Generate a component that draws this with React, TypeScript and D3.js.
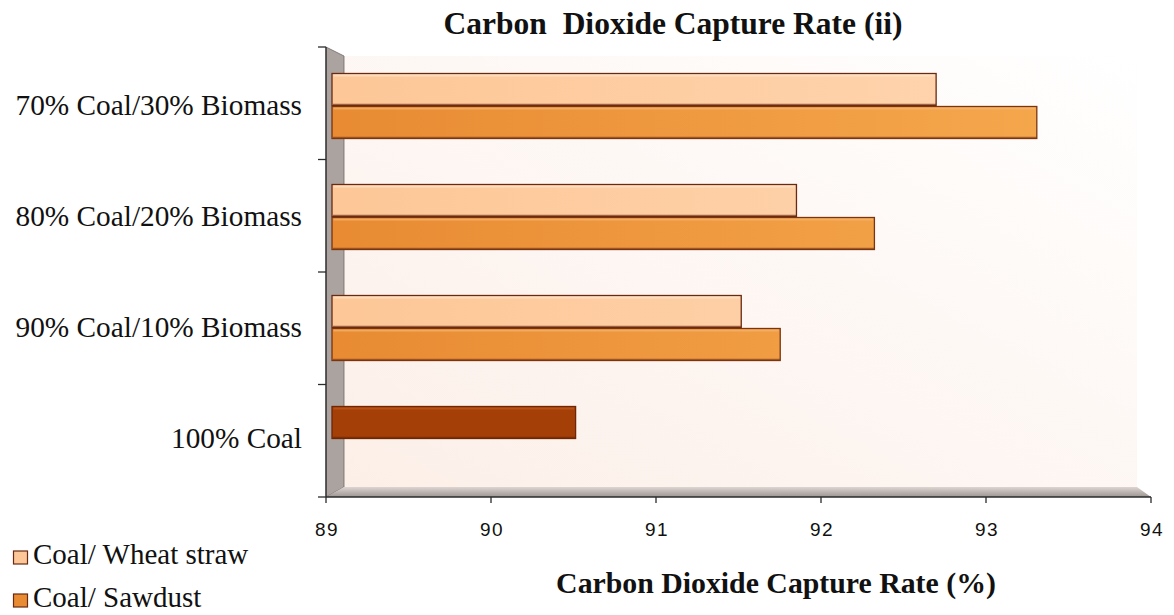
import React from "react";
import * as d3 from "d3";

// Blend ratios, top to bottom
const categories = [
  "70% Coal/30% Biomass",
  "80% Coal/20% Biomass",
  "90% Coal/10% Biomass",
  "100% Coal",
];
// CO2 capture rate (%) per blend
const wheatStraw = [92.72, 91.86, 91.52, 90.5];
const sawdust: (number | null)[] = [93.34, 92.34, 91.76, null];
const xTicks = [89, 90, 91, 92, 93, 94];
const seriesNames = ["Coal/ Wheat straw", "Coal/ Sawdust"];

const W = 1174;
const H = 615;

// Front edge of the chart box and the recessed back wall
const front = { left: 326, right: 1151, top: 47, bottom: 497 };
const back = { left: 344, right: 1137, top: 56, bottom: 487 };

export default function App() {
  const xAxis = d3.scaleLinear().domain([89, 94]).range([front.left, front.right]);
  const xBar = d3.scaleLinear().domain([89, 94]).range([332, 1144]);
  const yTicks = d3.scaleBand<string>().domain(categories).range([front.top, front.bottom]);
  const yBar = d3.scaleBand<string>().domain(categories).range([50, 494]);
  const barH = 32;

  const serif = "'Liberation Serif', 'Times New Roman', serif";
  const sans = "'Liberation Sans', Arial, sans-serif";

  const boundaries = [...categories.map((c) => yTicks(c)!), front.bottom];

  const bar = (
    key: string,
    v: number,
    y0: number,
    fill: string,
    stroke: string,
    hi: string
  ) => {
    const x0 = xBar(89);
    const x1 = xBar(v);
    return (
      <g key={key}>
        <rect x={x0} y={y0} width={x1 - x0} height={barH} fill={fill} stroke={stroke} strokeWidth={1.3} />
        <line x1={x0 + 1.5} x2={x1 - 1.5} y1={y0 + 2} y2={y0 + 2} stroke={hi} strokeWidth={2} opacity={0.7} />
        <line x1={x0 + 1} x2={x1} y1={y0 + barH - 1} y2={y0 + barH - 1} stroke={stroke} strokeWidth={1.5} opacity={0.6} />
      </g>
    );
  };

  return (
    <svg width={W} height={H} style={{ position: "absolute", left: 0, top: 0, background: "#fff" }}>
      <defs>
        <linearGradient id="wall" x1="0" y1="1" x2="1" y2="0">
          <stop offset="0" stopColor="#fcefe8" />
          <stop offset="1" stopColor="#ffffff" />
        </linearGradient>
        <linearGradient id="floor" x1="0" y1="0" x2="0" y2="1">
          <stop offset="0" stopColor="#ddd5d1" />
          <stop offset="1" stopColor="#9d9591" />
        </linearGradient>
        <linearGradient id="wheat" gradientUnits="userSpaceOnUse" x1={332} y1={0} x2={1144} y2={0}>
          <stop offset="0" stopColor="#fdc797" />
          <stop offset="1" stopColor="#ffd7b3" />
        </linearGradient>
        <linearGradient id="saw" gradientUnits="userSpaceOnUse" x1={332} y1={0} x2={1144} y2={0}>
          <stop offset="0" stopColor="#e88b33" />
          <stop offset="1" stopColor="#f7ab50" />
        </linearGradient>
      </defs>

      {/* back wall */}
      <rect x={back.left} y={back.top} width={back.right - back.left} height={back.bottom - back.top} fill="url(#wall)" />
      {/* left side wall */}
      <polygon
        points={`${front.left},${front.top} ${back.left},${back.top} ${back.left},${back.bottom} ${front.left},${front.bottom}`}
        fill="#aba39f"
        stroke="#6f6865"
        strokeWidth={0.8}
      />
      {/* floor */}
      <polygon
        points={`${front.left},${front.bottom} ${back.left},${back.bottom} ${back.right},${back.bottom} ${front.right},${front.bottom}`}
        fill="url(#floor)"
      />

      {/* bars */}
      {categories.map((c, i) => {
        const cy = yBar(c)! + yBar.bandwidth() / 2;
        const items = [];
        const isCoal = sawdust[i] == null;
        items.push(
          bar(
            `w${i}`,
            wheatStraw[i],
            cy - barH,
            isCoal ? "#a53f08" : "url(#wheat)",
            isCoal ? "#6e2604" : "#6a2a12",
            isCoal ? "#c05a1c" : "#ffe6cf"
          )
        );
        if (!isCoal) {
          items.push(bar(`s${i}`, sawdust[i] as number, cy + 1, "url(#saw)", "#7a3410", "#f6b66f"));
        }
        return <g key={c}>{items}</g>;
      })}

      {/* value axis */}
      <line x1={front.left} x2={front.right} y1={front.bottom} y2={front.bottom} stroke="#2b2b2b" strokeWidth={1.3} />
      {xTicks.map((t) => (
        <g key={t}>
          <line x1={xAxis(t)} x2={xAxis(t)} y1={front.bottom} y2={front.bottom + 6} stroke="#2b2b2b" strokeWidth={1.3} />
          <text x={xAxis(t) + 1} y={536} textAnchor="middle" fontFamily={sans} fontSize={19} letterSpacing={1.5} fill="#111">
            {t}
          </text>
        </g>
      ))}

      {/* category axis */}
      <line x1={front.left} x2={front.left} y1={front.top} y2={front.bottom} stroke="#2b2b2b" strokeWidth={1.3} />
      {boundaries.map((b, i) => (
        <line key={i} x1={front.left - 8} x2={front.left} y1={b} y2={b} stroke="#2b2b2b" strokeWidth={1.3} />
      ))}
      {categories.map((c) => (
        <text
          key={c}
          x={302}
          y={yBar(c)! + yBar.bandwidth() / 2 + 9}
          textAnchor="end"
          fontFamily={serif}
          fontSize={29.3}
          fill="#111"
        >
          {c}
        </text>
      ))}

      {/* title */}
      <text x={673} y={34} textAnchor="middle" fontFamily={serif} fontWeight="bold" fontSize={31.5} fill="#111" style={{ whiteSpace: "pre" }}>
        {"Carbon  Dioxide Capture Rate (ii)"}
      </text>

      {/* axis title */}
      <text x={776} y={593} textAnchor="middle" fontFamily={serif} fontWeight="bold" fontSize={29.8} fill="#111">
        Carbon Dioxide Capture Rate (%)
      </text>

      {/* legend */}
      {seriesNames.map((n, i) => {
        const y = 564 + i * 43;
        return (
          <g key={n}>
            <rect x={13.5} y={y - 13} width={14} height={13} fill={i === 0 ? "#fdc797" : "#e88b33"} stroke="#6a2a12" strokeWidth={1.2} />
            <text x={33} y={y} fontFamily={serif} fontSize={29} fill="#111">
              {n}
            </text>
          </g>
        );
      })}
    </svg>
  );
}
